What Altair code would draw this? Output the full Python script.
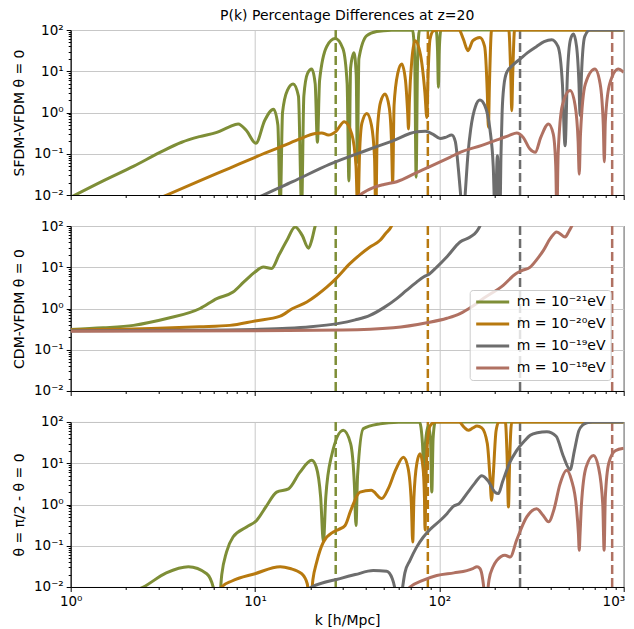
import altair as alt
import pandas as pd

SERIES = ["m = 10⁻²¹eV", "m = 10⁻²⁰eV", "m = 10⁻¹⁹eV", "m = 10⁻¹⁸eV"]
COLORS = ["#7e8e37", "#b7790f", "#6d6d6d", "#b07162"]
K_JEANS = [27.4, 86.6, 274.0, 866.0]

X_TICKS = [1, 2, 3, 4, 5, 6, 7, 8, 9, 10, 20, 30, 40, 50, 60, 70, 80, 90,
           100, 200, 300, 400, 500, 600, 700, 800, 900, 1000]
Y_TICKS = [0.01, 0.02, 0.03, 0.04, 0.05, 0.06, 0.07, 0.08, 0.09,
           0.1, 0.2, 0.3, 0.4, 0.5, 0.6, 0.7, 0.8, 0.9,
           1, 2, 3, 4, 5, 6, 7, 8, 9, 10, 20, 30, 40, 50, 60, 70, 80, 90, 100]
X_MAJOR = [1, 10, 100, 1000]
X_MAJOR_LABELS = ["10⁰", "10¹", "10²", "10³"]
Y_MAJOR = [0.01, 0.1, 1, 10, 100]
Y_MAJOR_LABELS = ["10⁻²", "10⁻¹", "10⁰", "10¹", "10²"]

# ---------------- panel 1 : SFDM-VFDM theta = 0 ----------------
p1_m21_k = [1.0, 1.5, 2.2, 3.05, 4.0, 5.0, 6.2, 7.2, 8.1, 9.0, 10.1, 11.3, 12.6, 13.3, 13.7,
            14.1, 15.0, 16.1, 17.2, 17.9, 18.4, 19.3, 20.3, 21.2, 21.8, 22.4, 24.5, 27.2, 30.0, 31.6,
            32.3, 33.0, 34.4, 35.4, 35.9, 36.6, 40.4, 45.7, 55.0, 71.5, 73.5, 74.8, 76.2, 78.0, 96.0,
            97.8, 98.8, 99.8, 102.0, 1000.0]
p1_m21_v = [0.0088, 0.022, 0.05, 0.108, 0.19, 0.26, 0.33, 0.44, 0.53, 0.36, 0.18, 0.65, 1.2, 0.5, 0.005,
            1.0, 3.5, 4.9, 2.5, 0.005, 2.5, 9.0, 11.3, 5.0, 0.19, 6.0, 40, 62, 35, 5,
            0.022, 12, 28, 8, 0.062, 20, 73, 92, 99, 100, 20, 0.027, 20, 100, 100,
            30, 4.1, 30, 100, 100]
p1_m20_k = [3.0, 3.32, 5.0, 7.3, 10.0, 14.3, 17.5, 21.2, 23.0, 25.0, 27.5, 30.5, 33.5, 35.3, 36.1,
            36.9, 38.0, 40.4, 42.8, 44.5, 45.2, 46.0, 48.0, 50.8, 53.5, 55.0, 55.8, 56.8, 59.5, 62.5,
            65.5, 67.3, 68.0, 68.8, 71.0, 73.8, 79.0, 83.5, 85.5, 87.0, 89.0, 93.0, 100.0, 128.0, 135.0,
            143.0, 152.0, 166.0, 176.0, 182.0, 184.5, 187.0, 192.0, 238.0, 244.0, 247.0, 250.0, 256.0, 1000.0]
p1_m20_v = [0.0082, 0.01, 0.022, 0.045, 0.082, 0.157, 0.23, 0.31, 0.32, 0.285, 0.35, 0.6, 0.3, 0.05, 0.003,
            0.1, 0.55, 0.95, 0.5, 0.08, 0.003, 0.3, 1.8, 2.8, 1.3, 0.2, 0.02, 1.5, 9, 15,
            6, 1.0, 0.4, 2.0, 20, 55, 25, 3, 0.76, 10, 60, 95, 100, 100, 60,
            31.5, 55, 66, 40, 3, 0.44, 5, 100, 100, 8, 1.1, 8, 100, 100]
p1_m19_k = [10.0, 11.1, 16.0, 25.5, 40.0, 55.0, 75.4, 84.0, 92.0, 101.0, 108.0, 116.7, 122.0, 127.0, 131.0,
            134.5, 138.0, 143.0, 148.0, 157.0, 166.0, 176.0, 188.0, 196.0, 200.6, 206.5, 213.0, 216.0, 219.0, 224.0,
            232.0, 250.0, 274.0, 300.0, 337.0, 370.0, 407.0, 440.0, 465.0, 481.0, 495.0, 515.0, 534.0, 555.0, 572.0,
            580.0, 590.0, 615.0, 657.0, 1000.0]
p1_m19_v = [0.008, 0.01, 0.021, 0.056, 0.12, 0.2, 0.34, 0.35, 0.3, 0.235, 0.25, 0.285, 0.2, 0.04, 0.008,
            0.002, 0.01, 0.1, 0.4, 1.4, 2.0, 1.5, 0.4, 0.05, 0.003, 0.09, 0.003, 0.1, 1.0, 4.5,
            9.4, 14, 19.8, 28, 40, 52, 58, 40, 5, 0.157, 8, 60, 80, 40, 5,
            0.84, 8, 70, 100, 100]
p1_m18_k = [35.0, 37.1, 43.8, 50.0, 58.7, 75.4, 90.0, 114.0, 129.5, 170.0, 213.0, 240.0, 263.0, 285.0, 310.0,
            331.0, 355.0, 391.0, 415.0, 428.0, 434.0, 441.0, 465.0, 512.0, 545.0, 566.0, 574.0, 583.0, 620.0, 698.0,
            745.0, 775.0, 785.0, 795.0, 840.0, 936.0, 1000.0]
p1_m18_v = [0.008, 0.01, 0.015, 0.018, 0.021, 0.035, 0.05, 0.082, 0.108, 0.16, 0.23, 0.28, 0.32, 0.25, 0.13,
            0.108, 0.25, 0.53, 0.3, 0.05, 0.003, 0.1, 1.5, 3.4, 1.5, 0.2, 0.032, 0.3, 5, 11.3,
            5, 0.5, 0.064, 0.6, 5, 11.3, 9.4]

# ---------------- panel 2 : CDM-VFDM theta = 0 ----------------
p2_m21_k = [1.0, 1.5, 2.19, 3.32, 5.03, 6.2, 7.6, 8.7, 10.0, 11.1, 12.3, 13.5, 14.9, 16.5, 18.0,
            19.5, 20.3, 21.2, 22.0]
p2_m21_v = [0.31, 0.34, 0.39, 0.57, 1.0, 1.74, 2.5, 4.4, 7.7, 10.1, 9.3, 20, 45, 95, 60,
            29, 45, 100, 160]
p2_m20_k = [1.0, 3.0, 5.0, 7.3, 10.0, 13.7, 16.0, 19.1, 21.6, 24.5, 27.5, 32.7, 37.0, 42.0, 47.7,
            51.0, 55.0, 57.0]
p2_m20_v = [0.3, 0.33, 0.36, 0.39, 0.5, 0.65, 1.0, 1.44, 2.1, 3.3, 5.3, 12.2, 20, 31, 45,
            65, 100, 150]
p2_m19_k = [1.0, 5.0, 10.0, 15.0, 20.0, 28.0, 35.0, 42.0, 50.0, 58.7, 66.0, 75.0, 82.0, 88.0, 96.8,
            110.0, 129.5, 147.0, 160.0, 166.0, 172.0]
p2_m19_v = [0.29, 0.295, 0.31, 0.33, 0.36, 0.43, 0.53, 0.68, 1.05, 1.74, 2.7, 4.3, 5.8, 6.8, 10.1,
            18, 41, 54, 75, 100, 150]
p2_m18_k = [1.0, 10.0, 30.0, 56.3, 85.5, 110.0, 129.5, 150.0, 173.0, 222.0, 260.0, 280.0, 311.0, 340.0, 367.0,
            400.0, 433.0, 481.0, 505.0, 523.0, 540.0]
p2_m18_v = [0.28, 0.29, 0.30, 0.34, 0.45, 0.58, 0.75, 1.1, 1.74, 3.65, 7.0, 8.3, 10.1, 16, 25.7,
            50, 72, 54, 75, 100, 150]

# ---------------- panel 3 : theta = pi/2 - theta = 0 ----------------
p3_m21_k = [2.3, 2.48, 3.3, 4.35, 5.47, 6.0, 6.3, 6.6, 7.0, 7.6, 9.0, 10.2, 11.5, 13.1, 15.2,
            17.5, 20.3, 21.5, 22.7, 23.5, 24.2, 26.0, 30.1, 33.0, 34.6, 35.3, 36.0, 38.7, 47.7, 60.0,
            78.0, 81.0, 82.5, 84.0, 87.0, 89.5, 91.0, 92.5, 95.0, 1000.0]
p3_m21_v = [0.0085, 0.01, 0.022, 0.031, 0.021, 0.008, 0.002, 0.02, 0.07, 0.163, 0.285, 0.41, 0.9, 2.0, 2.4,
            6, 11.8, 8, 1.5, 0.123, 1.5, 15, 63, 30, 3, 0.31, 5, 69, 90, 99,
            100, 30, 5, 30, 80, 40, 2.0, 40, 100, 100]
p3_m20_k = [6.3, 6.6, 7.5, 10.0, 13.7, 15.5, 17.9, 19.2, 19.9, 20.6, 21.6, 23.5, 26.6, 28.5, 30.8,
            33.0, 37.1, 42.7, 48.7, 53.0, 58.0, 63.8, 67.5, 70.5, 71.7, 72.8, 75.5, 78.6, 81.5, 83.0,
            83.6, 84.5, 86.5, 89.0, 95.0, 128.0, 136.0, 143.6, 152.0, 160.0, 170.0, 182.0, 188.0, 192.0, 196.0,
            203.0, 210.0, 228.0, 233.0, 237.0, 241.0, 247.0, 1000.0]
p3_m20_v = [0.005, 0.01, 0.014, 0.021, 0.031, 0.028, 0.021, 0.012, 0.003, 0.015, 0.04, 0.123, 0.215, 0.25, 0.31,
            0.7, 2.0, 2.2, 1.39, 2.5, 7, 14, 8, 1.0, 0.123, 1.5, 10, 17, 8, 1.5,
            0.24, 3, 40, 80, 100, 100, 75, 63, 72, 80, 72, 30, 5, 1.26, 5,
            60, 100, 100, 15, 0.87, 15, 100, 100]
p3_m19_k = [19.0, 20.3, 28.9, 35.0, 43.8, 51.8, 55.5, 58.0, 60.0, 62.5, 65.0, 69.3, 75.0, 81.9, 90.0,
            101.0, 110.0, 119.0, 128.0, 141.0, 155.0, 170.0, 185.0, 200.0, 209.0, 220.0, 240.0, 263.0, 290.0, 311.0,
            340.0, 383.0, 430.0, 470.0, 512.0, 540.0, 570.0, 600.0, 631.0, 680.0, 1000.0]
p3_m19_v = [0.0085, 0.01, 0.016, 0.02, 0.025, 0.024, 0.016, 0.007, 0.002, 0.007, 0.022, 0.044, 0.09, 0.163, 0.26,
            0.41, 0.6, 0.9, 1.05, 1.84, 3.2, 5.0, 3.6, 2.0, 1.84, 3.5, 10, 20.6, 35, 47.5,
            55, 58, 45, 15, 7, 20, 60, 85, 95, 100, 100]
p3_m18_k = [66.0, 69.3, 80.0, 96.8, 120.0, 141.0, 152.0, 160.0, 166.0, 172.0, 176.0, 179.0, 182.0, 186.0, 195.0,
            205.0, 227.0, 242.0, 263.0, 298.0, 337.0, 365.0, 391.0, 420.0, 450.0, 491.0, 520.0, 555.0, 568.0, 574.0,
            580.0, 590.0, 625.0, 686.0, 730.0, 770.0, 783.0, 795.0, 830.0, 900.0, 1000.0]
p3_m18_v = [0.008, 0.01, 0.014, 0.019, 0.022, 0.025, 0.028, 0.031, 0.028, 0.015, 0.006, 0.002, 0.006, 0.015, 0.03,
            0.044, 0.059, 0.053, 0.14, 0.5, 0.79, 0.55, 0.38, 0.8, 3.0, 6.8, 4.0, 0.8, 0.2, 0.078,
            0.2, 1.0, 8, 15.5, 8, 1.0, 0.078, 1.5, 10, 20, 23]

PANELS = [
    [(p1_m21_k, p1_m21_v), (p1_m20_k, p1_m20_v), (p1_m19_k, p1_m19_v), (p1_m18_k, p1_m18_v)],
    [(p2_m21_k, p2_m21_v), (p2_m20_k, p2_m20_v), (p2_m19_k, p2_m19_v), (p2_m18_k, p2_m18_v)],
    [(p3_m21_k, p3_m21_v), (p3_m20_k, p3_m20_v), (p3_m19_k, p3_m19_v), (p3_m18_k, p3_m18_v)],
]

rows = []
for pi, panel in enumerate(PANELS):
    for si, (ks, vs) in enumerate(panel):
        if len(ks) != len(vs):
            raise ValueError(f"length mismatch panel {pi} series {si}: {len(ks)} vs {len(vs)}")
        for k, v in zip(ks, vs):
            rows.append({"panel": pi, "series": SERIES[si], "order": si, "k": k, "v": v})
df = pd.DataFrame(rows)
rules_df = pd.DataFrame({"series": SERIES, "k": K_JEANS})


def eq_expr(vals):
    return " || ".join(f"datum.value == {v}" for v in vals)


def label_expr(vals, labels):
    s = "''"
    for v, lab in reversed(list(zip(vals, labels))):
        s = f"(datum.value == {v} ? '{lab}' : {s})"
    return s


X_MAJOR_TEST = eq_expr(X_MAJOR)
Y_MAJOR_TEST = eq_expr(Y_MAJOR)
X_LAST_TEST = "datum.value == 1000"
FONT = "DejaVu Sans"

x_scale = alt.Scale(type="log", domain=[1, 1000], nice=False)
y_scale = alt.Scale(type="log", domain=[0.01, 100], nice=False)


def panel_chart(idx, ytitle, show_x, legend=None, title=None):
    d = df[df.panel == idx]
    color = alt.Color("series:N", scale=alt.Scale(domain=SERIES, range=COLORS), legend=legend)
    x_axis = alt.Axis(
        values=X_TICKS, labelExpr=label_expr(X_MAJOR, X_MAJOR_LABELS), labels=show_x,
        title="k  [h/Mpc]" if show_x else None,
        grid=True, gridColor="#c8c8c8", gridWidth=1,
        gridOpacity={"condition": {"test": X_MAJOR_TEST, "value": 1}, "value": 0},
        tickSize={"condition": {"test": X_MAJOR_TEST, "value": 4.5}, "value": 2.5},
        labelAlign={"condition": {"test": X_LAST_TEST, "value": "right"}, "value": "center"},
        labelOffset={"condition": {"test": X_LAST_TEST, "value": 1}, "value": 0},
        labelOverlap=False, labelFlush=False, labelBound=False, labelPadding=2.9,
        titlePadding=5.3,
    )
    y_axis = alt.Axis(
        values=Y_TICKS, labelExpr=label_expr(Y_MAJOR, Y_MAJOR_LABELS), title=ytitle,
        grid=True, gridColor="#c8c8c8", gridWidth=1,
        gridOpacity={"condition": {"test": Y_MAJOR_TEST, "value": 1}, "value": 0},
        tickSize={"condition": {"test": Y_MAJOR_TEST, "value": 4.5}, "value": 2.5},
        labelOverlap=False, labelFlush=False, labelBound=False, labelPadding=3,
        minExtent=36, maxExtent=36, titlePadding=7.7,
    )
    rules = alt.Chart(rules_df).mark_rule(strokeDash=[9, 4], strokeWidth=2.5, clip=True).encode(
        x=alt.X("k:Q", scale=x_scale, axis=x_axis),
        color=color,
    )
    lines = alt.Chart(d).mark_line(strokeWidth=3, clip=True, interpolate="monotone").encode(
        x=alt.X("k:Q", scale=x_scale, axis=x_axis),
        y=alt.Y("v:Q", scale=y_scale, axis=y_axis),
        color=color,
        detail="order:O",
    )
    props = dict(width=553, height=165)
    if title is not None:
        props["title"] = title
    return alt.layer(rules, lines).properties(**props)


legend = alt.Legend(
    orient="none", legendX=399, legendY=64, title=None,
    fillColor="rgba(255,255,255,0.8)", strokeColor="#cccccc", cornerRadius=3, padding=5,
    symbolType="M-1,0H5", symbolStrokeWidth=3, symbolSize=121,
    labelFontSize=14, labelFont=FONT, labelColor="black", labelOffset=28, rowPadding=8,
)

title = alt.TitleParams(
    text="P(k) Percentage Differences at z=20", frame="group", anchor="middle",
    fontSize=14, font=FONT, fontWeight="normal", color="black", offset=0.1,
)

c1 = panel_chart(0, "SFDM-VFDM θ = 0", False, title=title)
c2 = panel_chart(1, "CDM-VFDM θ = 0", False, legend=legend)
c3 = panel_chart(2, "θ = π/2 - θ = 0", True)

chart = alt.vconcat(c1, c2, c3, spacing=16).resolve_scale(color="independent").resolve_legend(
    color="independent"
).properties(
    padding={"left": 3.7, "top": 0, "right": 0, "bottom": 0}
).configure_view(stroke="black", strokeWidth=1).configure_axis(
    labelFont=FONT, titleFont=FONT, labelFontSize=13.5, titleFontSize=14,
    labelColor="black", titleColor="black", tickColor="black", domainColor="black",
    titleFontWeight="normal", domainWidth=1, tickWidth=1,
)

chart.save("out.html", embed_options={"renderer": "svg", "actions": False})
